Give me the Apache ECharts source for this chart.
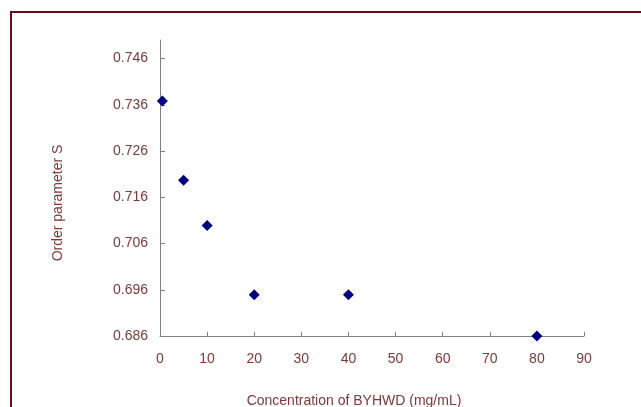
<!DOCTYPE html>
<html><head><meta charset="utf-8">
<script src="https://cdn.jsdelivr.net/npm/echarts@6/dist/echarts.min.js"></script>
<style>html,body{margin:0;padding:0;background:#fff}#c{width:641px;height:407px}</style>
</head><body><div id="c"></div>
<script>
var concentration = [0.5, 5, 10, 20, 40, 80];
var orderS = [0.7368, 0.7197, 0.7099, 0.6949, 0.6949, 0.6860];
var yTicks = [0.686, 0.696, 0.706, 0.716, 0.726, 0.736, 0.746];
var xTicks = [0, 10, 20, 30, 40, 50, 60, 70, 80, 90];
var xTitle = 'Concentration of BYHWD (mg/mL)';
var yTitle = 'Order parameter S';

var labelColor = '#7a3a3a';
var font = 'Liberation Sans, Arial, sans-serif';
var chart = echarts.init(document.getElementById('c'));
chart.setOption({
  animation: false,
  backgroundColor: '#fff',
  graphic: [{
    type: 'rect', shape: {x: 11, y: 12, width: 700, height: 500},
    style: {fill: null, stroke: '#6a0d1a', lineWidth: 2}, silent: true
  }, {
    type: 'text', x: 354, y: 401, silent: true,
    style: {text: xTitle, fill: labelColor, fontSize: 14, fontFamily: font, align: 'center', verticalAlign: 'middle'}
  }, {
    type: 'text', x: 58, y: 203, rotation: Math.PI / 2, silent: true,
    style: {text: yTitle, fill: labelColor, fontSize: 14, fontFamily: font, align: 'center', verticalAlign: 'middle'}
  }],
  grid: {left: 160, right: 57, top: 40, bottom: 71},
  xAxis: {
    type: 'value', min: 0, max: 90, interval: 10,
    axisLine: {lineStyle: {color: '#808080', width: 1}},
    axisTick: {inside: true, length: 4, lineStyle: {color: '#808080'}, customValues: xTicks},
    axisLabel: {color: labelColor, fontSize: 14, fontFamily: font, margin: 16, customValues: xTicks},
    splitLine: {show: false}
  },
  yAxis: {
    type: 'value', min: 0.686, max: 0.75,
    axisLine: {show: true, lineStyle: {color: '#808080', width: 1}},
    axisTick: {show: true, inside: true, length: 5, lineStyle: {color: '#808080'}, customValues: yTicks},
    axisLabel: {color: labelColor, fontSize: 14, fontFamily: font, margin: 12,
      customValues: yTicks, formatter: function (v) { return v.toFixed(3); }},
    splitLine: {show: false}
  },
  series: [{
    type: 'scatter', symbol: 'diamond', symbolSize: 11,
    itemStyle: {color: '#00007f', opacity: 1},
    data: concentration.map(function (x, i) { return [x, orderS[i]]; })
  }]
});
</script></body></html>
